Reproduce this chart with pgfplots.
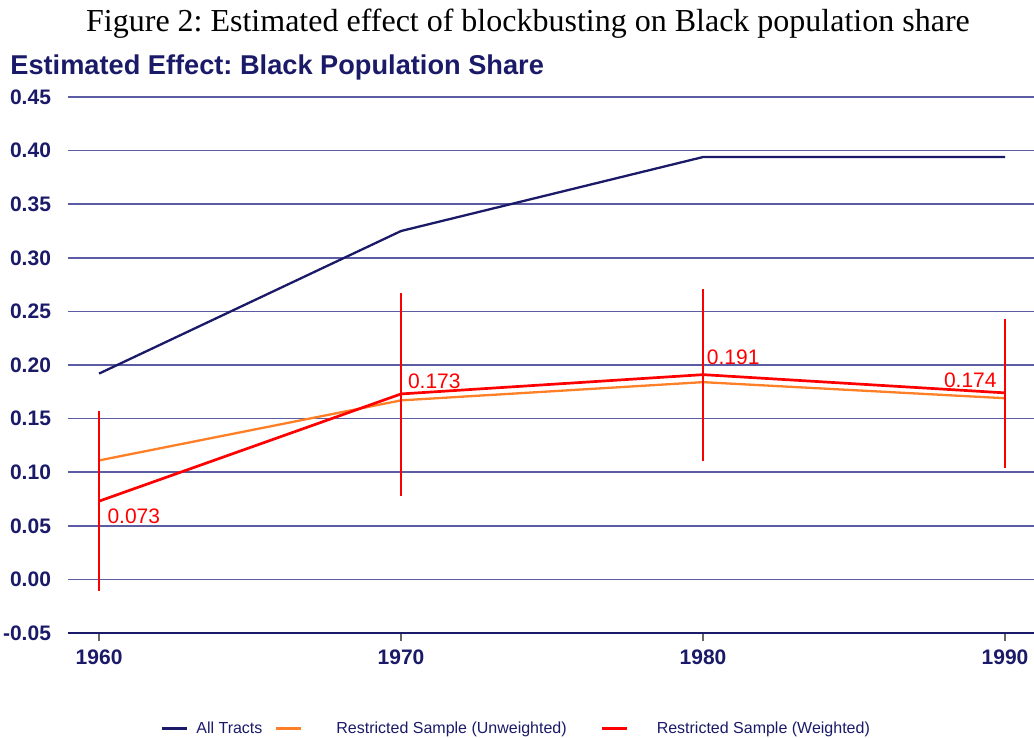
\documentclass[border=0pt]{standalone}
\usepackage{fontspec}
\setmainfont{Liberation Serif}
\setsansfont{Liberation Sans}
\usepackage{pgfplots}
\pgfplotsset{compat=1.18}
\definecolor{navy}{HTML}{1A1A68}
\definecolor{gridc}{HTML}{5C5CA4}
\definecolor{orng}{HTML}{FF7F27}
\definecolor{rd}{HTML}{FF0000}
\frenchspacing
\begin{document}
\begin{tikzpicture}
\useasboundingbox (-34pt,-52.5pt) rectangle (483pt,316.5pt);
\begin{axis}[
  at={(0pt,0pt)}, anchor=south west,
  scale only axis, width=483pt, height=268pt,
  xmin=1958.97, xmax=1990.96,
  ymin=-0.05, ymax=0.45,
  axis x line*=bottom, axis y line*=left,
  x axis line style={-, draw=navy, line width=1.3pt},
  y axis line style={draw=none},
  xtick={1960,1970,1980,1990},
  ytick={-0.05,0,0.05,0.1,0.15,0.2,0.25,0.3,0.35,0.4,0.45},
  ytick style={draw=none},
  xtick style={draw=gray!80!black, line width=0.8pt},
  tick align=outside, major tick length=4pt,
  ymajorgrids, major grid style={gridc, line width=0.75pt},
  /pgf/number format/assume math mode=true,
  x tick label style={/pgf/number format/1000 sep={}, yshift=-1pt},
  y tick label style={/pgf/number format/fixed, /pgf/number format/fixed zerofill, /pgf/number format/precision=2, xshift=-1pt},
  ticklabel style={font=\sffamily\bfseries\fontsize{10.5}{12}\selectfont, text=navy},
  legend columns=3,
  legend style={at={(axis description cs:0.0952,-0.179)}, anchor=west, draw=none, fill=none,
    inner sep=0pt, font=\sffamily\fontsize{8}{9}\selectfont, text=navy,
    /tikz/every even column/.append style={column sep=0pt}},
  legend image code/.code={\draw[#1, line width=1.5pt] (0pt,0pt) -- (12.5pt,0pt);},
  clip=false,
]
\addplot[navy, line width=1.15pt] coordinates {(1960,0.192) (1970,0.325) (1980,0.394) (1990,0.394)};
\addlegendentry{\hspace{2pt}All Tracts\rule{4pt}{0pt}}
\addplot[orng, line width=1.15pt] coordinates {(1960,0.111) (1970,0.167) (1980,0.184) (1990,0.169)};
\addlegendentry{\hspace{15pt}Restricted Sample (Unweighted)\rule{15pt}{0pt}}
\addplot[draw=none, mark=none, forget plot,
  error bars/.cd, y dir=both, y explicit, error mark=none,
  error bar style={rd, line width=0.8pt}]
  coordinates {(1960,0.073) += (0,0.084) -= (0,0.084)
               (1970,0.173) += (0,0.094) -= (0,0.095)
               (1980,0.191) += (0,0.080) -= (0,0.081)
               (1990,0.174) += (0,0.069) -= (0,0.070)};
\addplot[rd, line width=1.35pt] coordinates {(1960,0.073) (1970,0.173) (1980,0.191) (1990,0.174)};
\addlegendentry{\hspace{12pt}Restricted Sample (Weighted)}
\node[anchor=north west, text=rd, font=\sffamily\fontsize{10.5}{12}\selectfont, inner sep=1pt] at (axis cs:1960.2,0.068) {0.073};
\node[anchor=south west, text=rd, font=\sffamily\fontsize{10.5}{12}\selectfont, inner sep=1pt] at (axis cs:1970.15,0.176) {0.173};
\node[anchor=south west, text=rd, font=\sffamily\fontsize{10.5}{12}\selectfont, inner sep=1pt] at (axis cs:1980.05,0.198) {0.191};
\node[anchor=south east, text=rd, font=\sffamily\fontsize{10.5}{12}\selectfont, inner sep=1pt] at (axis cs:1989.8,0.177) {0.174};
\end{axis}
\node[anchor=base west, text=navy, font=\sffamily\bfseries\fontsize{13.6}{16}\selectfont, inner sep=0pt] at (-29pt,279pt) {Estimated Effect: Black Population Share};
\node[anchor=center, font=\fontsize{16}{19}\selectfont, inner sep=0pt] at (230pt,304.5pt) {Figure 2: Estimated effect of blockbusting on Black population share};
\end{tikzpicture}
\end{document}
